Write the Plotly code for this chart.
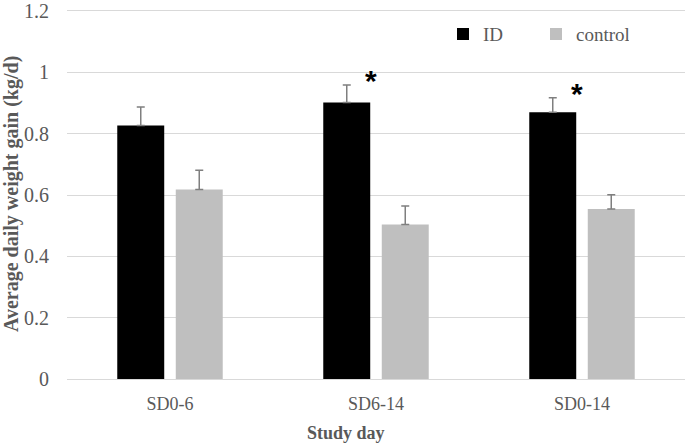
import plotly.graph_objects as go

categories = ["SD0-6", "SD6-14", "SD0-14"]
id_values = [0.827, 0.902, 0.870]
id_errors = [0.060, 0.057, 0.047]
control_values = [0.618, 0.504, 0.554]
control_errors = [0.063, 0.060, 0.047]
significance = ["", "*", "*"]
y_ticks = [0, 0.2, 0.4, 0.6, 0.8, 1.0, 1.2]
y_tick_labels = ["0", "0.2", "0.4", "0.6", "0.8", "1", "1.2"]

FONT = "Liberation Serif"
GREY_TXT = "#595959"

fig = go.Figure()
fig.add_trace(go.Bar(
    x=categories, y=id_values, name="ID",
    marker=dict(color="#000000", line=dict(width=0)),
    width=0.228, offset=-0.256,
    error_y=dict(type="data", array=id_errors, arrayminus=[0] * len(id_errors),
                 symmetric=False, visible=True,
                 color="#7f7f7f", thickness=1.5, width=4),
))
fig.add_trace(go.Bar(
    x=categories, y=control_values, name="control",
    marker=dict(color="#bfbfbf", line=dict(width=0)),
    width=0.228, offset=0.028,
    error_y=dict(type="data", array=control_errors, arrayminus=[0] * len(control_errors),
                 symmetric=False, visible=True,
                 color="#7f7f7f", thickness=1.5, width=4),
))

for i, s in enumerate(significance):
    if s:
        fig.add_annotation(
            x=i - 0.026, y=id_values[i] + id_errors[i],
            xref="x", yref="y", text="<b>" + s + "</b>", showarrow=False,
            yanchor="bottom", yshift=-14,
            font=dict(family="Liberation Sans", size=30, color="#000000"),
        )

fig.add_annotation(
    x=(346 - 67) / 618, y=-0.145, xref="paper", yref="paper",
    text="<b>Study day</b>", showarrow=False, yanchor="middle",
    font=dict(family=FONT, size=18, color=GREY_TXT),
)
fig.add_annotation(
    x=(11 - 67) / 618, y=0.5, xref="paper", yref="paper",
    text="<b>Average daily weight gain (kg/d)</b>", showarrow=False,
    textangle=-90, xanchor="center", yanchor="middle",
    font=dict(family=FONT, size=20, color=GREY_TXT),
)

fig.update_layout(
    width=685, height=444,
    margin=dict(l=67, r=0, t=5, b=65),
    paper_bgcolor="white", plot_bgcolor="white",
    barmode="overlay",
    font=dict(family=FONT, size=18, color=GREY_TXT),
    showlegend=True,
    legend=dict(orientation="h", x=(443 - 67) / 618, y=0.932,
                xanchor="left", yanchor="middle",
                font=dict(family=FONT, size=19, color=GREY_TXT),
                bgcolor="rgba(0,0,0,0)", entrywidth=48, entrywidthmode="pixels"),
    xaxis=dict(showgrid=False, showline=False, ticks="", zeroline=False,
               ticklabelstandoff=12,
               tickfont=dict(family=FONT, size=18, color=GREY_TXT),
               range=[-0.5, 2.5]),
    yaxis=dict(range=[0, 1.2065], tickvals=y_ticks, ticktext=y_tick_labels,
               showgrid=True, gridcolor="#d9d9d9", gridwidth=1,
               zeroline=True, zerolinecolor="#d9d9d9", zerolinewidth=1,
               showline=False, ticks="", ticklabelstandoff=17,
               ticklabeloverflow="allow",
               tickfont=dict(family=FONT, size=20, color=GREY_TXT)),
)

fig.write_html("out.html", config={"displayModeBar": False},
               post_script="document.body.style.margin='0';")
